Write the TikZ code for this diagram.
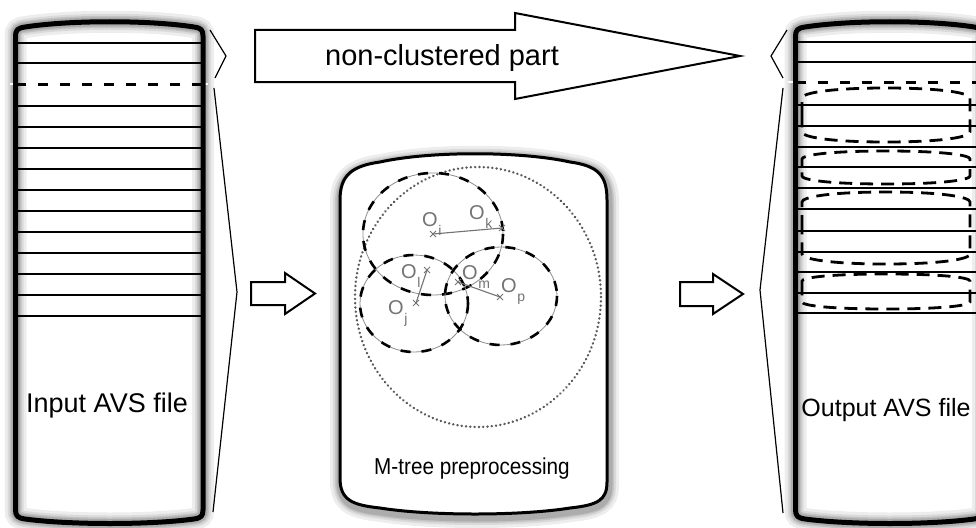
\documentclass[tikz,border=0pt]{standalone}
\usepackage{fontspec}
\setmainfont{Liberation Sans}
\usetikzlibrary{shapes.misc}
\newcommand\lsub[1]{\kern0.6pt\raisebox{-0.45em}{\fontsize{14}{14}\selectfont #1}}
\tikzset{
  cylout/.style={line width=5pt, line join=round},
  glow/.style={draw=black, line join=round,
     preaction={draw=black, opacity=0.07, line width=22pt},
     preaction={draw=black, opacity=0.08, line width=16pt},
     preaction={draw=black, opacity=0.10, line width=12pt},
     preaction={draw=black, opacity=0.12, line width=9pt},
     line width=0pt, draw opacity=0},
  rowline/.style={line width=2pt},
  cutwhite/.style={line width=2.6pt, white},
  cutline/.style={line width=3pt, dash pattern=on 10pt off 12pt},
  brk/.style={line width=1.2pt, line join=miter},
  fatarrow/.style={line width=2pt, fill=white, line join=miter},
  clusterbox/.style={line width=2.8pt, dash pattern=on 13pt off 8pt},
  ballthin/.style={line width=0.8pt, black!45},
  balldash/.style={line width=2.6pt, dash pattern=on 10pt off 11pt},
  routing/.style={line width=2.6pt, black!65, dash pattern=on 0.1pt off 4.2pt, line cap=round},
  olab/.style={text=black!55, font=\fontsize{20}{20}\selectfont, inner sep=0pt, anchor=base west},
  xm/.style={draw=black!55, cross out, line width=1pt, minimum size=5pt, inner sep=0pt},
  ptr/.style={line width=1.1pt, black!55},
  bigtext/.style={inner sep=0pt, anchor=base},
}
\def\leftcyl{(15.5,36) .. controls (15.5,30) and (18,28) .. (25,27) .. controls (70,20) and (150,20) .. (194,27) .. controls (201,28) and (203,30) .. (203,36) -- (203,510) .. controls (203,516) and (201,518) .. (194,519) .. controls (150,525) and (70,525) .. (25,519) .. controls (18,518) and (15.5,516) .. (15.5,510) -- cycle}
\def\rightcyl{(795.5,36) .. controls (795.5,30) and (798,28) .. (805,27) .. controls (850,20) and (930,20) .. (974,27) .. controls (981,28) and (983,30) .. (983,36) -- (983,510) .. controls (983,516) and (981,518) .. (974,519) .. controls (930,525) and (850,525) .. (805,519) .. controls (798,518) and (795.5,516) .. (795.5,510) -- cycle}
\def\midcyl{(340,200) .. controls (340,175) and (352,166) .. (380,162) .. controls (430,151) and (520,151) .. (570,162) .. controls (598,166) and (607,175) .. (607,200) -- (607,482) .. controls (607,500) and (598,505) .. (570,508) .. controls (520,516) and (430,516) .. (380,508) .. controls (352,505) and (340,500) .. (340,478) -- cycle}
\begin{document}
\begin{tikzpicture}[x=1pt,y=-1pt]
\useasboundingbox (0,0) rectangle (976,527);
\clip (0,0) rectangle (976,527);

% ---------------- left cylinder ----------------
\path[fill=white] \leftcyl;
\path[glow] \leftcyl;
\foreach \yy in {43,63,106,127,148,169,190,211,232,253,274,295,316}
  \draw[rowline] (15.5,\yy) -- (203,\yy);
\draw[cutwhite] (10,84) -- (208,84);
\draw[cutline] (15.5,84) -- (203,84);
\draw[cylout] \leftcyl;
\node[bigtext, font=\fontsize{27}{27}\selectfont] (inlabel) at (107,412) {Input AVS file};

% brackets left
\coordinate (lb1) at (210,30);
\coordinate (lb2) at (226,56);
\coordinate (lb3) at (215,78);
\coordinate (lb4) at (214,88);
\coordinate (lb5) at (237,292);
\coordinate (lb6) at (213,512);
\draw[brk] (lb1) -- (lb2) -- (lb3);
\draw[brk] (lb4) -- (lb5) -- (lb6);

% ---------------- right cylinder ----------------
\path[fill=white] \rightcyl;
\path[glow] \rightcyl;
\foreach \yy in {42,62,105,126,147,167,188,209,231,252,272,293,313}
  \draw[rowline] (795.5,\yy) -- (983,\yy);
\draw[cutwhite] (788,82) -- (983,82);
\draw[cutline] (795.5,82) -- (983,82);
\foreach \ya/\yb/\yo in {88/142/10, 151/184/8, 192/264/10, 274/309/7}
  \draw[clusterbox] (802,{(\ya+\yb)/2}) -- (802,\ya+\yo) .. controls (802,\ya+\yo/2) and (830,\ya) .. (886,\ya) .. controls (942,\ya) and (970,\ya+\yo/2) .. (970,\ya+\yo) -- (970,\yb-\yo) .. controls (970,\yb-\yo/2) and (942,\yb) .. (886,\yb) .. controls (830,\yb) and (802,\yb-\yo/2) .. (802,\yb-\yo) -- cycle;
\draw[cylout] \rightcyl;
\node[bigtext, font=\fontsize{25}{25}\selectfont] (outlabel) at (886,416) {Output AVS file};

% brackets right
\coordinate (rb1) at (787,30);
\coordinate (rb2) at (771,56);
\coordinate (rb3) at (783,78);
\coordinate (rb4) at (783,88);
\coordinate (rb5) at (760,290);
\coordinate (rb6) at (783,513);
\draw[brk] (rb1) -- (rb2) -- (rb3);
\draw[brk] (rb4) -- (rb5) -- (rb6);

% ---------------- arrows ----------------
\draw[fatarrow] (255,30) -- (515,30) -- (515,13) -- (740,56) -- (515,99) -- (515,82) -- (255,82) -- cycle;
\node[bigtext, font=\fontsize{29}{29}\selectfont] (nclabel) at (442,65) {non-clustered part};
\draw[fatarrow] (251,282) -- (285,282) -- (285,273) -- (315,293.5) -- (285,314) -- (285,305) -- (251,305) -- cycle;
\draw[fatarrow] (680,282) -- (713,282) -- (713,274) -- (743,294) -- (713,314) -- (713,306) -- (680,306) -- cycle;

% ---------------- middle cylinder ----------------
\begin{scope}[shift={(1,3)}]
\path[glow] \midcyl;
\end{scope}
\path[fill=white] \midcyl;
\draw[line width=3pt, line join=round] \midcyl;

\draw[routing] (478,297) ellipse [x radius=123, y radius=130];
\foreach \cx/\cy/\rx/\ry in {433/234/70/61, 414/303.5/54/48.5, 501/296/56/49}{
  \draw[ballthin] (\cx,\cy) ellipse [x radius=\rx, y radius=\ry];
  \draw[balldash] (\cx,\cy) ellipse [x radius=\rx, y radius=\ry];
}
\node[xm] (Oi) at (433,234) {};
\node[xm] (Ok) at (502,228) {};
\node[xm] (Ol) at (427,270) {};
\node[xm] (Oj) at (416,303) {};
\node[xm] (Om) at (458,282) {};
\node[xm] (Op) at (500,297) {};
\draw[ptr] (Oi.center) -- (Ok.center);
\draw[ptr] (Ol.center) -- (Oj.center);
\draw[ptr] (Om.center) -- (Op.center);
\node[olab] (tOi) at (422,226) {O\lsub{i}};
\node[olab] (tOk) at (469,219) {O\lsub{k}};
\node[olab] (tOl) at (401,278) {O\lsub{l}};
\node[olab] (tOj) at (388,314) {O\lsub{j}};
\node[olab] (tOm) at (462,279) {O\lsub{m}};
\node[olab] (tOp) at (501,292) {O\lsub{p}};
\node[bigtext, font=\fontsize{23}{23}\selectfont] (mlabel) at (472,474) {\scalebox{0.9}[1]{M-tree preprocessing}};
\end{tikzpicture}
\end{document}
